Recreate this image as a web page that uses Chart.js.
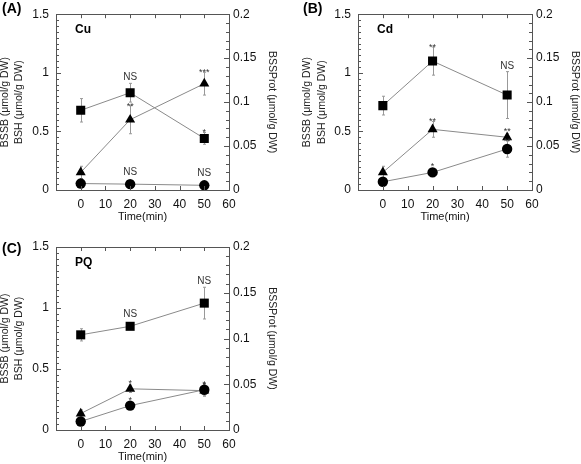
<!DOCTYPE html>
<html>
<head>
<meta charset="utf-8">
<script src="https://cdn.jsdelivr.net/npm/chart.js@4.4.0/dist/chart.umd.min.js"></script>
<style>
  body { margin: 0; background: #fff; }
  .panel { position: absolute; }
</style>
</head>
<body>
<div class="panel" style="left:0;top:0;width:290px;height:232px"><canvas id="chartA"></canvas></div>
<div class="panel" style="left:290px;top:0;width:291px;height:232px"><canvas id="chartB"></canvas></div>
<div class="panel" style="left:0;top:232px;width:290px;height:232px"><canvas id="chartC"></canvas></div>
<script>
const timePoints = [0, 20, 50];
const xTicks = [0, 10, 20, 30, 40, 50, 60];
const leftTicks = [0, 0.5, 1, 1.5];
const rightTicks = [0, 0.05, 0.1, 0.15, 0.2];
const leftTitle = ["BSSB (\u03bcmol/g DW)", "BSH (\u03bcmol/g DW)"];
const rightTitle = "BSSProt (\u03bcmol/g DW)";

// (A) Cu
const bshCu = [0.68, 0.83, 0.44];
const bshCuErr = [0.1, 0.08, 0.05];
const bssbCu = [0.055, 0.05, 0.04];
const bssbCuErr = [0, 0, 0];
const bssprotCu = [0.02, 0.08, 0.121];
const bssprotCuErr = [0.007, 0.016, 0.013];
const bshCuSig = ["", "NS", "*"];
const bssbCuSig = ["", "NS", "NS"];
const bssprotCuSig = ["", "**", "***"];

// (B) Cd
const bshCd = [0.72, 1.1, 0.81];
const bshCdErr = [0.08, 0.12, 0.2];
const bssbCd = [0.07, 0.15, 0.35];
const bssbCdErr = [0.02, 0.02, 0.07];
const bssprotCd = [0.02, 0.069, 0.06];
const bssprotCdErr = [0.007, 0.009, 0.004];
const bshCdSig = ["", "**", "NS"];
const bssbCdSig = ["", "*", "**"];
const bssprotCdSig = ["", "**", "**"];

// (C) PQ
const bshPq = [0.78, 0.85, 1.04];
const bshPqErr = [0.05, 0.02, 0.13];
const bssbPq = [0.07, 0.2, 0.33];
const bssbPqErr = [0.02, 0.03, 0.05];
const bssprotPq = [0.018, 0.045, 0.043];
const bssprotPqErr = [0.004, 0.004, 0.006];
const bshPqSig = ["", "NS", "NS"];
const bssbPqSig = ["", "*", "*"];
const bssprotPqSig = ["", "*", "*"];

const FONT = "Liberation Sans, Arial, sans-serif";
const LINE_GREY = "#8a8a8a";

function fmt(v) {
  return String(parseFloat(Number(v).toFixed(3)));
}

const panelPlugin = {
  id: "panelPlugin",
  beforeDatasetsDraw(chart) {
    const ctx = chart.ctx;
    ctx.save();
    ctx.strokeStyle = "#999";
    ctx.lineWidth = 1;
    chart.data.datasets.forEach((ds) => {
      const yScale = chart.scales[ds.yAxisID];
      ds.data.forEach((v, i) => {
        const e = ds.errors[i];
        if (!e) return;
        const x = Math.round(chart.scales.x.getPixelForValue(timePoints[i])) + 0.5;
        const y1 = yScale.getPixelForValue(v + e);
        const y2 = yScale.getPixelForValue(v - e);
        ctx.beginPath();
        ctx.moveTo(x, y1); ctx.lineTo(x, y2);
        ctx.moveTo(x - 1.5, y1); ctx.lineTo(x + 1.5, y1);
        ctx.moveTo(x - 1.5, y2); ctx.lineTo(x + 1.5, y2);
        ctx.stroke();
      });
    });
    ctx.restore();
  },
  afterDraw(chart) {
    const ctx = chart.ctx;
    const a = chart.chartArea;
    const opts = chart.options.plugins.panelPlugin;
    ctx.save();
    // frame
    ctx.strokeStyle = "#555";
    ctx.lineWidth = 1;
    ctx.strokeRect(Math.round(a.left) + 0.5, Math.round(a.top) + 0.5,
      Math.round(a.right - a.left), Math.round(a.bottom - a.top));
    // inward ticks
    ctx.beginPath();
    xTicks.concat([-10]).forEach((t) => {
      const x = Math.round(chart.scales.x.getPixelForValue(t)) + 0.5;
      ctx.moveTo(x, a.bottom); ctx.lineTo(x, a.bottom - 4);
      ctx.moveTo(x, a.top); ctx.lineTo(x, a.top + 4);
    });
    for (let k = 0; k <= 30; k++) {
      const y = Math.round(chart.scales.y.getPixelForValue(k * 0.05)) + 0.5;
      const len = k % 10 === 0 ? 5 : 3;
      ctx.moveTo(a.left, y); ctx.lineTo(a.left + len, y);
    }
    for (let k = 0; k <= 20; k++) {
      const y = Math.round(chart.scales.y1.getPixelForValue(k * 0.01)) + 0.5;
      const len = k % 5 === 0 ? 5 : 3;
      ctx.moveTo(a.right, y); ctx.lineTo(a.right - len, y);
    }
    ctx.stroke();
    // axis titles
    const midY = (a.top + a.bottom) / 2;
    ctx.fillStyle = "#222";
    ctx.font = "10.5px " + FONT;
    ctx.textAlign = "center";
    ctx.textBaseline = "middle";
    leftTitle.forEach((t, i) => {
      ctx.save();
      ctx.translate(opts.leftTitleX[i], midY);
      ctx.rotate(-Math.PI / 2);
      ctx.fillText(t, 0, 0);
      ctx.restore();
    });
    ctx.save();
    ctx.translate(opts.rightTitleX, midY);
    ctx.rotate(Math.PI / 2);
    ctx.fillText(rightTitle, 0, 0);
    ctx.restore();
    // significance marks
    ctx.fillStyle = "#333";
    ctx.textAlign = "center";
    ctx.textBaseline = "alphabetic";
    chart.data.datasets.forEach((ds) => {
      const yScale = chart.scales[ds.yAxisID];
      ds.sig.forEach((s, i) => {
        if (!s) return;
        const x = chart.scales.x.getPixelForValue(timePoints[i]);
        const top = Math.min(yScale.getPixelForValue(ds.data[i] + (ds.errors[i] || 0)),
          yScale.getPixelForValue(ds.data[i]) - 6);
        if (s === "NS") {
          ctx.font = "10px " + FONT;
          ctx.fillText(s, x, top - 3);
        } else {
          ctx.font = "9px " + FONT;
          ctx.fillText(s, x, top + 3);
        }
      });
    });
    // panel label and treatment
    ctx.fillStyle = "#000";
    ctx.textAlign = "left";
    ctx.font = "bold 14px " + FONT;
    ctx.fillText(opts.label, opts.labelX, opts.labelY);
    ctx.font = "bold 12px " + FONT;
    ctx.fillText(opts.treatment, a.left + 19, a.top + 19);
    ctx.restore();
  },
};

function makePanel(id, cfg) {
  const ctx = document.getElementById(id);
  const series = [
    { label: "BSH", data: cfg.bsh, errors: cfg.bshErr, sig: cfg.bshSig, yAxisID: "y", pointStyle: "rect", pointRadius: 6.4 },
    { label: "BSSB", data: cfg.bssb, errors: cfg.bssbErr, sig: cfg.bssbSig, yAxisID: "y", pointStyle: "circle", pointRadius: 5.2 },
    { label: "BSSProt", data: cfg.bssprot, errors: cfg.bssprotErr, sig: cfg.bssprotSig, yAxisID: "y1", pointStyle: "triangle", pointRadius: 5.8 },
  ];
  return new Chart(ctx, {
    type: "line",
    data: {
      labels: timePoints,
      datasets: series.map((d) => ({
        ...d,
        borderColor: LINE_GREY,
        borderWidth: 1,
        pointBackgroundColor: "#000",
        pointBorderColor: "#000",
        pointBorderWidth: 0,
        tension: 0,
      })),
    },
    options: {
      responsive: true,
      maintainAspectRatio: false,
      animation: false,
      layout: { padding: { top: cfg.top, left: 0, right: 0, bottom: cfg.bottom } },
      plugins: {
        legend: { display: false },
        tooltip: { enabled: false },
        panelPlugin: {
          label: cfg.label, treatment: cfg.treatment, labelX: cfg.labelX, labelY: cfg.labelY,
          leftTitleX: cfg.leftTitleX, rightTitleX: cfg.rightTitleX,
        },
      },
      scales: {
        x: {
          type: "linear",
          min: -10, max: 60,
          afterBuildTicks: (s) => { s.ticks = xTicks.map((v) => ({ value: v })); },
          afterFit: (s) => { s.height = 34; },
          grid: { display: false, drawTicks: false },
          border: { display: false },
          ticks: { color: "#111", font: { family: FONT, size: 12 }, padding: 7, maxRotation: 0 },
          title: { display: true, text: "Time(min)", color: "#111", font: { family: FONT, size: 11 }, padding: { top: 0, bottom: 0 } },
        },
        y: {
          position: "left",
          min: 0, max: 1.5,
          afterBuildTicks: (s) => { s.ticks = leftTicks.map((v) => ({ value: v })); },
          afterFit: (s) => { s.width = cfg.leftWidth; },
          grid: { display: false, drawTicks: false },
          border: { display: false },
          ticks: { color: "#111", font: { family: FONT, size: 12 }, padding: 7, callback: fmt },
        },
        y1: {
          position: "right",
          min: 0, max: 0.2,
          afterBuildTicks: (s) => { s.ticks = rightTicks.map((v) => ({ value: v })); },
          afterFit: (s) => { s.width = cfg.rightWidth; },
          grid: { display: false, drawTicks: false },
          border: { display: false },
          ticks: { color: "#111", font: { family: FONT, size: 12 }, padding: 4, callback: fmt },
        },
      },
    },
    plugins: [panelPlugin],
  });
}

makePanel("chartA", {
  label: "(A)", treatment: "Cu", labelX: 2, labelY: 13,
  bsh: bshCu, bshErr: bshCuErr, bshSig: bshCuSig,
  bssb: bssbCu, bssbErr: bssbCuErr, bssbSig: bssbCuSig,
  bssprot: bssprotCu, bssprotErr: bssprotCuErr, bssprotSig: bssprotCuSig,
  top: 7, bottom: 8, leftWidth: 56, rightWidth: 61,
  leftTitleX: [5, 19], rightTitleX: 272,
});
makePanel("chartB", {
  label: "(B)", treatment: "Cd", labelX: 13, labelY: 13,
  bsh: bshCd, bshErr: bshCdErr, bshSig: bshCdSig,
  bssb: bssbCd, bssbErr: bssbCdErr, bssbSig: bssbCdSig,
  bssprot: bssprotCd, bssprotErr: bssprotCdErr, bssprotSig: bssprotCdSig,
  top: 7, bottom: 8, leftWidth: 68, rightWidth: 49,
  leftTitleX: [17, 32], rightTitleX: 285,
});
makePanel("chartC", {
  label: "(C)", treatment: "PQ", labelX: 2, labelY: 21,
  bsh: bshPq, bshErr: bshPqErr, bshSig: bshPqSig,
  bssb: bssbPq, bssbErr: bssbPqErr, bssbSig: bssbPqSig,
  bssprot: bssprotPq, bssprotErr: bssprotPqErr, bssprotSig: bssprotPqSig,
  top: 15, bottom: 0, leftWidth: 56, rightWidth: 61,
  leftTitleX: [5, 19], rightTitleX: 272,
});
</script>
</body>
</html>
